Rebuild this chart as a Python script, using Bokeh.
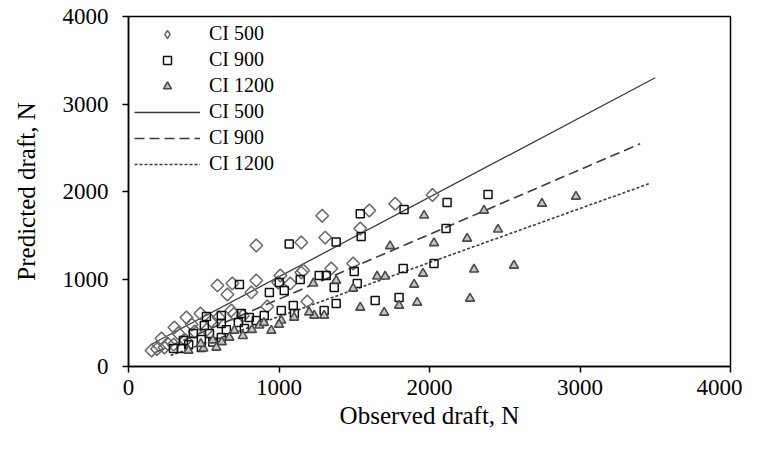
import numpy as np
from bokeh.plotting import figure
from bokeh.models import Range1d, FixedTicker, Legend, LegendItem
from bokeh.embed import file_html
from bokeh.resources import INLINE

# ---------------- data ----------------
ci500_obs = [153, 239, 219, 305, 385, 478, 591, 690, 657, 849, 849, 1009, 1148, 1161,
             1347, 1493, 1188, 922, 683, 816, 995, 1075, 1148, 1287, 1307, 1540, 1600,
             1772, 2020, 190, 260, 330, 420, 550, 600, 700, 760, 520, 380, 300, 440]
ci500_pred = [183, 217, 320, 446, 560, 606, 926, 949, 823, 983, 1383, 1040, 1074, 1097,
              1120, 1177, 743, 686, 640, 846, 960, 949, 1417, 1723, 1474, 1577, 1783,
              1860, 1960, 200, 260, 380, 480, 520, 560, 600, 580, 420, 300, 250, 400]

ci900_obs = [299, 352, 484, 365, 484, 617, 431, 538, 504, 617, 730, 770, 518, 617, 750,
             803, 902, 849, 737, 936, 1035, 1002, 1141, 1267, 1314, 1500, 1520, 1367,
             1380, 1300, 1102, 1095, 1015, 1639, 1798, 1825, 2030, 1068, 1380, 1546,
             1540, 1831, 2117, 2110, 2389, 400, 650, 560]
ci900_pred = [206, 206, 217, 297, 309, 331, 377, 377, 469, 491, 503, 434, 571, 583, 606,
              560, 583, 526, 937, 846, 869, 960, 994, 1040, 1040, 1086, 949, 903,
              720, 640, 606, 697, 640, 754, 789, 1120, 1177, 1400, 1423, 1486,
              1745, 1794, 1874, 1577, 1966, 250, 420, 280]

ci1200_obs = [398, 498, 584, 670, 703, 869, 949, 1015, 1234, 1300, 1228, 1380, 1493, 1540,
              1699, 1798, 1918, 1652, 1705, 1738, 1898, 1957, 1964, 2030, 2250, 2455,
              2362, 2747, 2973, 2296, 2561, 2269, 480, 560, 620, 760, 820, 900, 1000,
              1100, 1200]
ci1200_pred = [183, 206, 217, 331, 411, 469, 411, 526, 583, 583, 949, 983, 891, 674,
               617, 697, 731, 1029, 1029, 1377, 937, 1063, 1726, 1411, 1463, 1566,
               1783, 1863, 1943, 1109, 1154, 777, 260, 300, 280, 350, 420, 500, 480,
               560, 620]

# fitted lines (end points)
line500_x = [150, 3500]
line500_y = [252, 3300]
line900_x = [180, 3400]
line900_y = [163, 2546]
line1200_x = [280, 3460]
line1200_y = [125, 2090]

ticks = [0, 1000, 2000, 3000, 4000]
x_title = "Observed draft, N"
y_title = "Predicted draft, N"

# ---------------- figure ----------------
FONT = "Liberation Serif"
p = figure(width=742, height=442, output_backend="svg", toolbar_location=None,
           x_range=Range1d(0, 4000), y_range=Range1d(0, 4000),
           min_border_left=128, min_border_right=12, min_border_top=16,
           min_border_bottom=76)
p.xgrid.visible = False
p.ygrid.visible = False
p.outline_line_color = "black"
p.outline_line_width = 1.5
p.background_fill_color = "white"
p.border_fill_color = "white"

for ax in (p.xaxis[0], p.yaxis[0]):
    ax.ticker = FixedTicker(ticks=ticks)
    ax.axis_line_color = "black"
    ax.axis_line_width = 1.5
    ax.major_tick_line_color = "black"
    ax.major_tick_line_width = 1.5
    ax.major_tick_in = 0
    ax.major_tick_out = 6
    ax.minor_tick_line_color = None
    ax.major_label_text_font = FONT
    ax.major_label_text_font_size = "23px"
    ax.major_label_text_color = "black"
    ax.axis_label_text_font = FONT
    ax.axis_label_text_font_size = "25px"
    ax.axis_label_text_font_style = "normal"
    ax.axis_label_text_color = "black"

p.xaxis.axis_label = x_title
p.yaxis.axis_label = y_title
p.xaxis.major_label_standoff = 7
p.yaxis.major_label_standoff = 14
p.xaxis.axis_label_standoff = 4
p.yaxis.axis_label_standoff = 20

# lines
l500 = p.line(line500_x, line500_y, line_color="#3c3c3c", line_width=1.3)
l900 = p.line(line900_x, line900_y, line_color="#3c3c3c", line_width=1.6,
              line_dash="10 5")
l1200 = p.line(line1200_x, line1200_y, line_color="#3c3c3c", line_width=1.6,
               line_dash="3 2")

# scatter
s500 = p.scatter(ci500_obs, ci500_pred, marker="square", angle=np.pi / 4, size=9,
                 fill_color=None, line_color="#6a6a6a", line_width=1.5)
s900 = p.scatter(ci900_obs, ci900_pred, marker="square", size=8,
                 fill_color=None, line_color="#111111", line_width=1.5)
s1200 = p.scatter(ci1200_obs, ci1200_pred, marker="triangle", size=9,
                  fill_color="#c4c4c4", line_color="#4a4a4a", line_width=1.6)

# legend-only glyph (a single point placed outside the visible range)
d500 = p.scatter([-1000], [-1000], marker="diamond", size=9, fill_color=None,
                 line_color="#6a6a6a", line_width=1.5)

legend = Legend(items=[
    LegendItem(label="CI 500", renderers=[d500]),
    LegendItem(label="CI 900", renderers=[s900]),
    LegendItem(label="CI 1200", renderers=[s1200]),
    LegendItem(label="CI 500", renderers=[l500]),
    LegendItem(label="CI 900", renderers=[l900]),
    LegendItem(label="CI 1200", renderers=[l1200]),
], location="top_left")
legend.border_line_color = None
legend.background_fill_alpha = 0
legend.label_text_font = FONT
legend.label_text_font_size = "20px"
legend.label_text_color = "black"
legend.glyph_width = 66
legend.glyph_height = 20
legend.label_height = 20
legend.label_standoff = 9
legend.spacing = 3
legend.padding = 5
legend.margin = 6
p.add_layout(legend)

open("out.html", "w").write(file_html(p, INLINE))
